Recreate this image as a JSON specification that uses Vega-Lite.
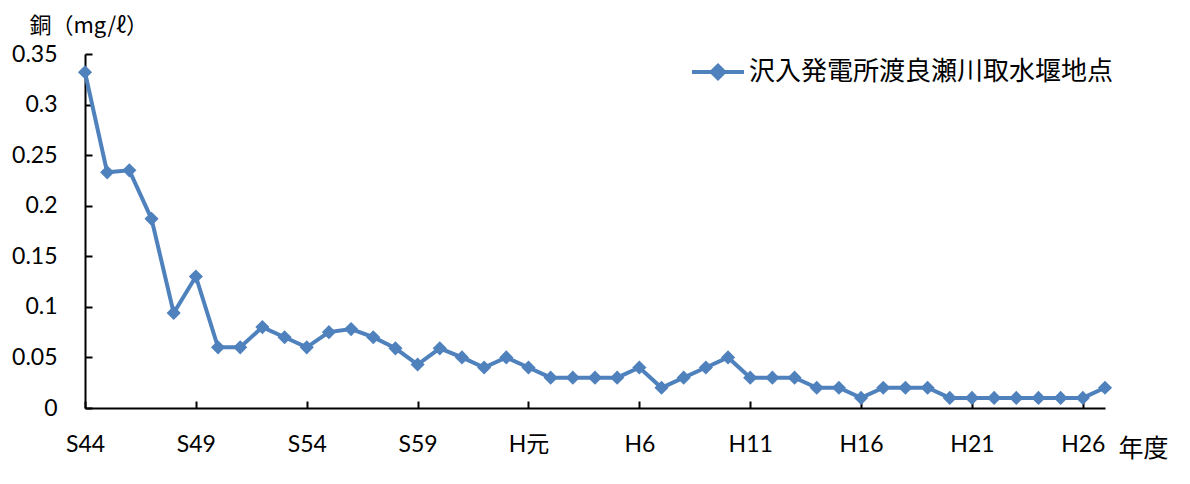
{
  "$schema": "https://vega.github.io/schema/vega-lite/v6.json",
  "width": 1020,
  "height": 354,
  "autosize": {"type": "none"},
  "padding": {"left": 85, "top": 54, "right": 85, "bottom": 76},
  "background": "white",
  "config": {"view": {"stroke": null}, "font": "Lato, Noto Sans CJK JP"},
  "data": {"values": [
    {"year": 1969, "value": 0.332, "series": "沢入発電所渡良瀬川取水堰地点"},
    {"year": 1970, "value": 0.233, "series": "沢入発電所渡良瀬川取水堰地点"},
    {"year": 1971, "value": 0.235, "series": "沢入発電所渡良瀬川取水堰地点"},
    {"year": 1972, "value": 0.187, "series": "沢入発電所渡良瀬川取水堰地点"},
    {"year": 1973, "value": 0.094, "series": "沢入発電所渡良瀬川取水堰地点"},
    {"year": 1974, "value": 0.130, "series": "沢入発電所渡良瀬川取水堰地点"},
    {"year": 1975, "value": 0.060, "series": "沢入発電所渡良瀬川取水堰地点"},
    {"year": 1976, "value": 0.060, "series": "沢入発電所渡良瀬川取水堰地点"},
    {"year": 1977, "value": 0.080, "series": "沢入発電所渡良瀬川取水堰地点"},
    {"year": 1978, "value": 0.070, "series": "沢入発電所渡良瀬川取水堰地点"},
    {"year": 1979, "value": 0.060, "series": "沢入発電所渡良瀬川取水堰地点"},
    {"year": 1980, "value": 0.075, "series": "沢入発電所渡良瀬川取水堰地点"},
    {"year": 1981, "value": 0.078, "series": "沢入発電所渡良瀬川取水堰地点"},
    {"year": 1982, "value": 0.070, "series": "沢入発電所渡良瀬川取水堰地点"},
    {"year": 1983, "value": 0.059, "series": "沢入発電所渡良瀬川取水堰地点"},
    {"year": 1984, "value": 0.043, "series": "沢入発電所渡良瀬川取水堰地点"},
    {"year": 1985, "value": 0.059, "series": "沢入発電所渡良瀬川取水堰地点"},
    {"year": 1986, "value": 0.050, "series": "沢入発電所渡良瀬川取水堰地点"},
    {"year": 1987, "value": 0.040, "series": "沢入発電所渡良瀬川取水堰地点"},
    {"year": 1988, "value": 0.050, "series": "沢入発電所渡良瀬川取水堰地点"},
    {"year": 1989, "value": 0.040, "series": "沢入発電所渡良瀬川取水堰地点"},
    {"year": 1990, "value": 0.030, "series": "沢入発電所渡良瀬川取水堰地点"},
    {"year": 1991, "value": 0.030, "series": "沢入発電所渡良瀬川取水堰地点"},
    {"year": 1992, "value": 0.030, "series": "沢入発電所渡良瀬川取水堰地点"},
    {"year": 1993, "value": 0.030, "series": "沢入発電所渡良瀬川取水堰地点"},
    {"year": 1994, "value": 0.040, "series": "沢入発電所渡良瀬川取水堰地点"},
    {"year": 1995, "value": 0.020, "series": "沢入発電所渡良瀬川取水堰地点"},
    {"year": 1996, "value": 0.030, "series": "沢入発電所渡良瀬川取水堰地点"},
    {"year": 1997, "value": 0.040, "series": "沢入発電所渡良瀬川取水堰地点"},
    {"year": 1998, "value": 0.050, "series": "沢入発電所渡良瀬川取水堰地点"},
    {"year": 1999, "value": 0.030, "series": "沢入発電所渡良瀬川取水堰地点"},
    {"year": 2000, "value": 0.030, "series": "沢入発電所渡良瀬川取水堰地点"},
    {"year": 2001, "value": 0.030, "series": "沢入発電所渡良瀬川取水堰地点"},
    {"year": 2002, "value": 0.020, "series": "沢入発電所渡良瀬川取水堰地点"},
    {"year": 2003, "value": 0.020, "series": "沢入発電所渡良瀬川取水堰地点"},
    {"year": 2004, "value": 0.010, "series": "沢入発電所渡良瀬川取水堰地点"},
    {"year": 2005, "value": 0.020, "series": "沢入発電所渡良瀬川取水堰地点"},
    {"year": 2006, "value": 0.020, "series": "沢入発電所渡良瀬川取水堰地点"},
    {"year": 2007, "value": 0.020, "series": "沢入発電所渡良瀬川取水堰地点"},
    {"year": 2008, "value": 0.010, "series": "沢入発電所渡良瀬川取水堰地点"},
    {"year": 2009, "value": 0.010, "series": "沢入発電所渡良瀬川取水堰地点"},
    {"year": 2010, "value": 0.010, "series": "沢入発電所渡良瀬川取水堰地点"},
    {"year": 2011, "value": 0.010, "series": "沢入発電所渡良瀬川取水堰地点"},
    {"year": 2012, "value": 0.010, "series": "沢入発電所渡良瀬川取水堰地点"},
    {"year": 2013, "value": 0.010, "series": "沢入発電所渡良瀬川取水堰地点"},
    {"year": 2014, "value": 0.010, "series": "沢入発電所渡良瀬川取水堰地点"},
    {"year": 2015, "value": 0.020, "series": "沢入発電所渡良瀬川取水堰地点"}
  ]},
  "mark": {
    "type": "line",
    "strokeWidth": 4,
    "clip": false,
    "point": {"shape": "diamond", "size": 200, "filled": true}
  },
  "encoding": {
    "x": {
      "field": "year",
      "type": "quantitative",
      "scale": {"domain": [1969, 2015], "nice": false, "zero": false},
      "axis": {
        "values": [1969, 1974, 1979, 1984, 1989, 1994, 1999, 2004, 2009, 2014],
        "labelExpr": "datum.value < 1989 ? 'S' + (datum.value - 1925) : (datum.value == 1989 ? 'H元' : 'H' + (datum.value - 1988))",
        "grid": false,
        "domainColor": "black",
        "domainWidth": 2,
        "tickColor": "black",
        "tickWidth": 2,
        "tickSize": -7,
        "labelPadding": 32,
        "labelFont": "Lato, Noto Sans CJK JP",
        "labelFontSize": 23,
        "labelColor": "black",
        "labelFlush": false,
        "labelOverlap": false,
        "title": "年度",
        "titleX": 1033,
        "titleY": 40,
        "titleAlign": "left",
        "titleBaseline": "middle",
        "titleFont": "Noto Sans CJK JP",
        "titleFontSize": 25,
        "titleFontWeight": "normal",
        "titleColor": "black"
      }
    },
    "y": {
      "field": "value",
      "type": "quantitative",
      "scale": {"domain": [0, 0.35], "nice": false},
      "axis": {
        "values": [0, 0.05, 0.1, 0.15, 0.2, 0.25, 0.3, 0.35],
        "format": ".2~f",
        "grid": false,
        "domainColor": "black",
        "domainWidth": 2,
        "tickColor": "black",
        "tickWidth": 2,
        "tickSize": -7,
        "labelPadding": 35,
        "labelFont": "Lato",
        "labelFontSize": 23,
        "labelColor": "black",
        "labelFlush": false,
        "labelOverlap": false,
        "title": "銅（mg/ℓ）",
        "titleAngle": 0,
        "titleX": -56,
        "titleY": -29,
        "titleAlign": "left",
        "titleBaseline": "middle",
        "titleFont": "Noto Sans CJK JP",
        "titleFontSize": 22,
        "titleFontWeight": "normal",
        "titleColor": "black"
      }
    },
    "color": {
      "field": "series",
      "type": "nominal",
      "scale": {"range": ["#4F81BD"]},
      "legend": {
        "title": null,
        "orient": "none",
        "legendX": 605,
        "legendY": -10,
        "padding": 0,
        "symbolType": "M-1,0H1M-0.24,0L0,-0.24L0.24,0L0,0.24Z",
        "symbolSize": 2704,
        "symbolStrokeWidth": 4,
        "labelOffset": 3,
        "labelFont": "Noto Sans CJK JP",
        "labelFontSize": 26,
        "labelColor": "black",
        "labelLimit": 500,
        "encode": {
          "symbols": {
            "update": {
              "fill": {"value": "#4F81BD"},
              "stroke": {"value": "#4F81BD"},
              "strokeWidth": {"value": 4}
            }
          }
        }
      }
    }
  }
}
